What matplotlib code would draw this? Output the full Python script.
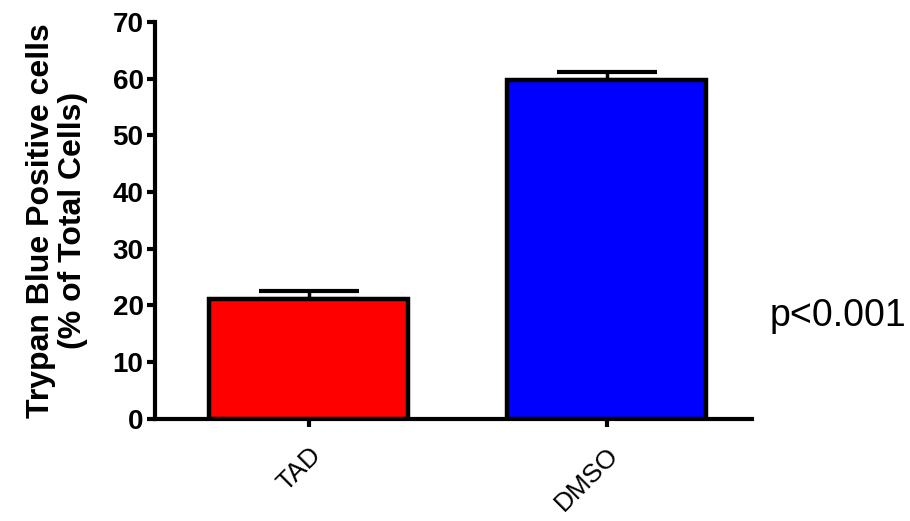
import matplotlib
matplotlib.use("Agg")
import matplotlib.pyplot as plt

categories = ["TAD", "DMSO"]
values = [21.1, 59.8]
errors = [1.5, 1.4]
colors = ["#ff0000", "#0000ff"]
yticks = [0, 10, 20, 30, 40, 50, 60, 70]

plt.rcParams['font.family'] = ['Liberation Sans', 'DejaVu Sans']

fig = plt.figure(figsize=(9.1, 5.21), dpi=100)
ax = fig.add_axes([0.170, 0.196, 0.656, 0.762])

x = list(range(len(categories)))
ax.bar(x, values, width=0.67, color=colors, edgecolor="black", linewidth=3.2, zorder=2)
ax.errorbar(x, values, yerr=[[0] * len(errors), errors], fmt="none", ecolor="black",
            elinewidth=2.5, capsize=36, capthick=3, zorder=1)

ax.set_xlim(-0.517, 1.487)
ax.set_ylim(0, 70)
ax.set_yticks(yticks)
ax.set_yticklabels([str(t) for t in yticks], fontsize=20, fontweight="bold")
ax.set_xticks(x)
ax.set_xticklabels(categories, fontsize=19, rotation=45, ha="right", rotation_mode="anchor")

for s in ["top", "right"]:
    ax.spines[s].set_visible(False)
for s in ["left", "bottom"]:
    ax.spines[s].set_linewidth(3)
ax.tick_params(axis="both", width=3, length=6, direction="out")
ax.tick_params(axis="y", pad=2)
ax.tick_params(axis="x", pad=11)

ax.set_ylabel("Trypan Blue Positive cells\n(% of Total Cells)", fontsize=23,
              fontweight="bold", linespacing=1.05, labelpad=18)

fig.text(0.846, 0.393, "p<0.001", fontsize=27, ha="left", va="center")

fig.savefig("out.png", dpi=100)
